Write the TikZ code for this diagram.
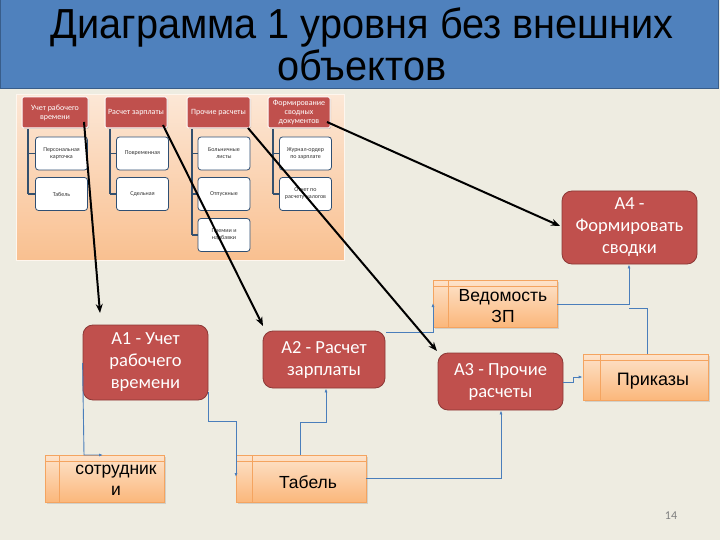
\documentclass[tikz,border=0pt]{standalone}
\usepackage{fontspec}
\setmainfont{Carlito}
\newfontfamily\titlefont[FakeStretch=0.945]{Liberation Sans}
\newfontfamily\storefont{Liberation Sans}
\usetikzlibrary{shadows,arrows.meta}
\definecolor{bg}{HTML}{EEECE1}
\definecolor{titleblue}{HTML}{4F81BD}
\definecolor{titleborder}{HTML}{385D8A}
\definecolor{redfill}{HTML}{C0504D}
\definecolor{redborder}{HTML}{8C3836}
\definecolor{treecol}{HTML}{34506E}
\definecolor{childborder}{HTML}{2F4F73}
\definecolor{peachtop}{HTML}{FCE7D6}
\definecolor{peachbot}{HTML}{F9C090}
\definecolor{storetop}{HTML}{FDE3CB}
\definecolor{storebot}{HTML}{FBB77B}
\definecolor{storeborder}{HTML}{F4A460}
\definecolor{flow}{HTML}{4A7EBB}
\tikzset{
  topbox/.style={draw=white, line width=1pt, fill=redfill, rounded corners=1.5pt,
    text=white, font=\fontsize{8}{9}\selectfont, align=center,
    inner sep=1pt, drop shadow={opacity=0.35, shadow xshift=1pt, shadow yshift=-1pt}},
  childbox/.style={draw=childborder, line width=0.8pt, fill=white, rounded corners=3pt,
    text=black!80, font=\fontsize{6}{7}\selectfont, align=center,
    minimum width=52pt, minimum height=33pt, inner sep=1pt},
  procbox/.style={draw=redborder, line width=0.8pt, fill=redfill, rounded corners=10pt,
    text=white, font=\fontsize{18.5}{22}\selectfont, align=center, inner sep=2pt},
  storebox/.style={draw=storeborder, line width=0.6pt, top color=storetop, bottom color=storebot,
    inner sep=0pt, drop shadow={opacity=0.25, shadow xshift=1.5pt, shadow yshift=-1.5pt}},
  storetext/.style={font=\storefont\fontsize{17.5}{21}\selectfont, align=center, text=black},
  bigarrow/.style={draw=black, line width=2pt, -{Stealth[length=9pt,width=7pt]}},
  flowline/.style={draw=flow, line width=0.9pt},
  flowarrow/.style={flowline, -{Latex[length=4pt,width=3pt]}},
}
\begin{document}
\begin{tikzpicture}[x=1pt,y=-1pt]
\fill[bg] (0,0) rectangle (720,540);
\useasboundingbox (0,0) rectangle (720,540);
% title
\node[draw=titleborder, line width=1pt, fill=titleblue, minimum width=718pt, minimum height=89pt,
  inner sep=0pt] (titlebar) at (359,44.5) {};
\node[font=\titlefont\fontsize{42}{42}\selectfont, align=center, text=black] (title) at (362,44)
  {Диаграмма 1 уровня без внешних\\объектов};
% panel
\shade[top color=peachtop, bottom color=peachbot] (16,95) rectangle (344,260);
\draw[white!85!peachbot, line width=1pt] (16,95) rectangle (344,260);
% top boxes
\node[topbox, minimum width=66pt, minimum height=31pt] (t1) at (55,112.5) {Учет рабочего\\времени};
\node[topbox, minimum width=62pt, minimum height=31pt] (t2) at (136,112.5) {Расчет зарплаты};
\node[topbox, minimum width=63pt, minimum height=31pt] (t3) at (218.5,112.5) {Прочие расчеты};
\node[topbox, minimum width=62pt, minimum height=31pt] (t4) at (299,112.5) {Формирование\\сводных\\документов};
% tree lines
\draw[color=treecol, line width=1.8pt] (28,129) -- (28,194);
\draw[color=treecol, line width=1.8pt] (28,153.5) -- (35,153.5);
\draw[color=treecol, line width=1.8pt] (28,194) -- (35,194);
\draw[color=treecol, line width=1.8pt] (110,129) -- (110,194);
\draw[color=treecol, line width=1.8pt] (110,153.5) -- (117,153.5);
\draw[color=treecol, line width=1.8pt] (110,194) -- (117,194);
\draw[color=treecol, line width=1.8pt] (192,129) -- (192,235);
\draw[color=treecol, line width=1.8pt] (192,153.5) -- (198,153.5);
\draw[color=treecol, line width=1.8pt] (192,194) -- (198,194);
\draw[color=treecol, line width=1.8pt] (192,235) -- (198,235);
\draw[color=treecol, line width=1.8pt] (273,129) -- (273,194);
\draw[color=treecol, line width=1.8pt] (273,153.5) -- (280,153.5);
\draw[color=treecol, line width=1.8pt] (273,194) -- (280,194);
% children
\node[childbox] (c11) at (61.5,153.5) {Персональная\\карточка};
\node[childbox] (c12) at (61.5,194) {Табель};
\node[childbox] (c21) at (142.5,153.5) {Повременная};
\node[childbox] (c22) at (142.5,194) {Сдельная};
\node[childbox] (c31) at (224,153.5) {Больничные\\листы};
\node[childbox] (c32) at (224,194) {Отпускные};
\node[childbox] (c33) at (224,235) {Премии и\\надбавки};
\node[childbox] (c41) at (305.5,153.5) {Журнал-ордер\\по зарплате};
\node[childbox] (c42) at (305.5,194) {Отчет по\\расчету налогов};
% process boxes
\node[procbox, minimum width=125pt, minimum height=75pt] (A1) at (145.5,362.5) {A1 - Учет\\рабочего\\времени};
\node[procbox, minimum width=122pt, minimum height=57pt] (A2) at (324,359.5) {A2 - Расчет\\зарплаты};
\node[procbox, minimum width=125pt, minimum height=57pt] (A3) at (500.5,381.5) {A3 - Прочие\\расчеты};
\node[procbox, minimum width=135pt, minimum height=73pt] (A4) at (629.5,227.5) {A4 -\\Формировать\\сводки};
% stores
\node[storebox, minimum width=119pt, minimum height=47pt] (s1) at (104.5,478.5) {};
\draw[storeborder, line width=0.6pt] (59,455) -- (59,502) (45,461) -- (164,461);
\node[storetext] (s1t) at (116,480) {сотрудник\\и};
\node[storebox, minimum width=130pt, minimum height=47pt] (s2) at (301,478.5) {};
\draw[storeborder, line width=0.6pt] (252,455) -- (252,502) (236,461) -- (366,461);
\node[storetext] (s2t) at (308,482) {Табель};
\node[storebox, minimum width=124pt, minimum height=47pt] (s3) at (495,303.5) {};
\draw[storeborder, line width=0.6pt] (448,280) -- (448,327) (433,286) -- (557,286);
\node[storetext] (s3t) at (503,306) {Ведомость\\ЗП};
\node[storebox, minimum width=125pt, minimum height=46pt] (s4) at (645.5,377) {};
\draw[storeborder, line width=0.6pt] (600,354) -- (600,400) (583,360) -- (708,360);
\node[storetext, font=\storefont\fontsize{18}{21}\selectfont] (s4t) at (653,381) {Приказы};
% blue flows
\draw[flowarrow] (A1.west |- 0,363) -- (84,455) -- (103,455);
\draw[flowarrow] (208,392) -- (208,421) -- (236,421) -- (236,477);
\draw[flowarrow] (s2.north -| 300,0) -- (300,422) -- (326,422) -- (A2.south -| 326,0);
\draw[flowarrow] (s2.east |- 0,478) -- (501,478) -- (A3.south -| 501,0);
\draw[flowarrow] (386,332) -- (433,332) -- (433,303);
\draw[flowarrow] (s3.east |- 0,304) -- (629,304) -- (A4.south -| 629,0);
\draw[flowline] (s4.north -| 647,0) -- (647,308) -- (629,308);
\draw[flowarrow] (A3.east |- 0,382) -- (573,382) -- (573,377) -- (s4.west |- 0,377);
% black arrows
\coordinate (p1) at (84,122);
\coordinate (q1) at (100,313);
\coordinate (p2) at (163,125);
\coordinate (q2) at (263,326);
\coordinate (p3) at (248,128);
\coordinate (q3) at (437,351);
\coordinate (p4) at (327,122);
\coordinate (q4) at (560,226);
\draw[bigarrow] (p1) -- (q1);
\draw[bigarrow] (p2) -- (q2);
\draw[bigarrow] (p3) -- (q3);
\draw[bigarrow] (p4) -- (q4);
% page number
\node[text=black!50, font=\fontsize{12}{14}\selectfont] (pg) at (671,516) {14};
\end{tikzpicture}
\end{document}
